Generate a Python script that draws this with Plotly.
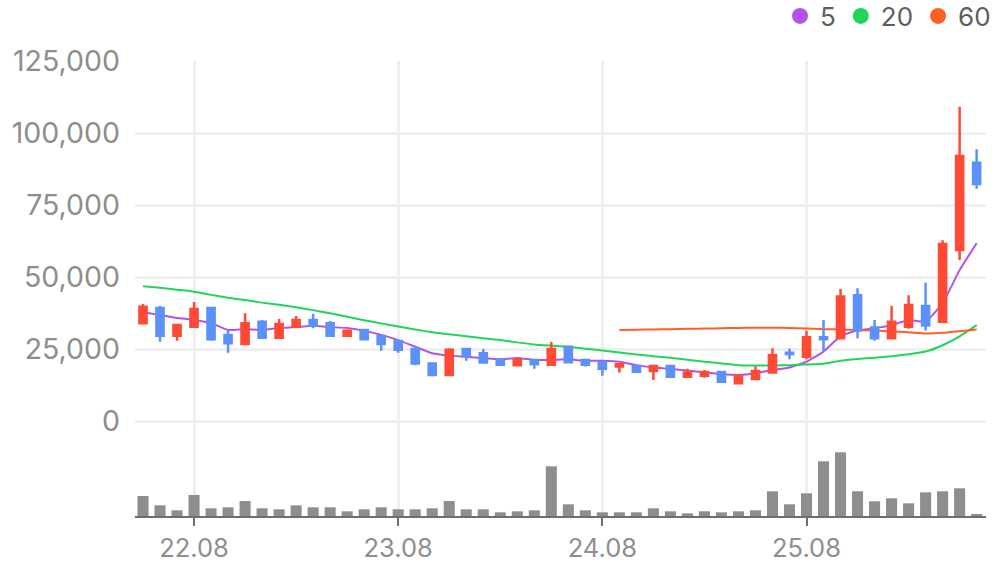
import pandas as pd
import plotly.graph_objects as go

# ---- data -------------------------------------------------------------
months = [d.strftime("%Y-%m") for d in pd.date_range("2022-05-01", periods=50, freq="MS")]

opens = [33900, 39200, 29600, 32700, 39200, 29900, 26700, 34500, 28900, 32700,
         35100, 33900, 29600, 31600, 29500, 27800, 25000, 20000, 16000, 25000,
         23500, 21200, 19400, 21200, 19500, 25800, 21200, 20400, 18900, 19100,
         17400, 19100, 15400, 15700, 17000, 13100, 14600, 16800, 23700, 22300,
         29100, 28700, 43700, 32500, 28700, 32700, 39900, 34500, 59400, 89700]
highs = [40600, 40000, 33300, 41300, 39200, 31600, 37400, 35100, 35400, 36500,
         37200, 34700, 31700, 31600, 29500, 27800, 25800, 20000, 25300, 25000,
         25000, 21900, 21400, 21200, 27400, 25800, 21200, 20400, 20000, 19100,
         19100, 19100, 18100, 17700, 17000, 15700, 18900, 25300, 25200, 31300,
         35100, 45800, 46100, 35100, 39900, 43700, 48000, 62800, 109100, 94400]
lows = [33500, 27500, 27900, 32300, 27900, 23700, 26500, 28900, 28600, 32700,
        32200, 29600, 29300, 28400, 24400, 23700, 19400, 16000, 16000, 20900,
        20300, 19500, 19100, 18100, 19500, 20400, 18900, 15700, 16800, 16800,
        14200, 15400, 15400, 15000, 13600, 12700, 14600, 16800, 21400, 21400,
        24100, 28700, 28700, 27900, 28700, 32000, 31400, 34500, 55900, 80600]
closes = [39700, 29600, 33300, 38900, 28400, 27000, 33900, 28900, 33700, 35100,
          33100, 29600, 31300, 28400, 26700, 24700, 20000, 16000, 24700, 22700,
          20300, 19500, 21400, 19700, 25000, 20400, 19500, 18100, 19700, 17100,
          19100, 15400, 16800, 17000, 13600, 15700, 17400, 22900, 23300, 29100,
          28400, 43200, 31400, 28700, 34500, 40300, 33200, 61500, 92000, 82300]

ma5 = [37800, 36800, 35800, 35100, 34000, 31600, 31900, 31600, 32300, 32600,
       33100, 32600, 32300, 31300, 29900, 28100, 25800, 23500, 22700, 22300,
       21800, 21400, 21900, 21200, 21200, 21400, 20900, 20900, 20600, 19400,
       18600, 18100, 17500, 16900, 16300, 16000, 16600, 17700, 18600, 20600,
       24100, 29500, 31400, 32200, 33300, 35100, 34500, 40900, 52400, 61700]
ma20 = [46800, 46300, 45600, 44900, 43800, 42800, 42000, 41100, 40400, 39500,
        38500, 37400, 36200, 35000, 33900, 32800, 31800, 30800, 30100, 29400,
        28700, 28100, 27300, 26600, 26200, 25800, 25100, 24500, 23800, 23100,
        22500, 22000, 21300, 20600, 20000, 19400, 19300, 19300, 19400, 19600,
        19900, 20900, 21500, 22000, 22500, 23200, 24100, 26300, 29400, 33300]
ma60 = [None] * 28 + [31600, 31700, 31800, 31900, 32000, 32100, 32200, 32300,
                      32400, 32400, 32300, 32100, 31900, 31800, 31600, 31400,
                      31100, 30800, 30400, 30600, 31200, 31800]

volumes = [2000, 1070, 570, 2100, 770, 870, 1500, 770, 670, 1070,
           870, 870, 470, 670, 870, 670, 670, 770, 1500, 670,
           670, 370, 470, 570, 4970, 1170, 570, 370, 370, 370,
           770, 470, 270, 470, 370, 470, 570, 2470, 1170, 2270,
           5470, 6370, 2470, 1470, 1770, 1270, 2370, 2470, 2770, 170]

tick_months = ["2022-08", "2023-08", "2024-08", "2025-08"]
tick_labels = ["22.08", "23.08", "24.08", "25.08"]
price_ticks = [0, 25000, 50000, 75000, 100000, 125000]
price_tick_labels = ["0", "25,000", "50,000", "75,000", "100,000", "125,000"]

ma_names = ["5", "20", "60"]
ma_colors = ["#B452F0", "#22D45C", "#FF5F24"]

# ---- figure -----------------------------------------------------------
UP = "#FF4A35"
DOWN = "#5C91FA"
GRID = "#EFEFEF"
TXT = "#8E8E8E"
FONT = "Inter, Roboto, Arial, sans-serif"

fig = go.Figure()

fig.add_trace(go.Bar(x=months, y=volumes, marker_color="#8E8E8E",
                     marker_line_width=0, yaxis="y2", showlegend=False,
                     hoverinfo="skip"))

for name, vals, col in zip(ma_names, [ma5, ma20, ma60], ma_colors):
    fig.add_trace(go.Scatter(x=months, y=vals, mode="lines",
                             line=dict(color=col, width=2, shape="spline", smoothing=0.4),
                             showlegend=False, hoverinfo="skip", yaxis="y"))

fig.add_trace(go.Candlestick(
    x=months, open=opens, high=highs, low=lows, close=closes,
    increasing=dict(line=dict(color=UP, width=2.5), fillcolor=UP),
    decreasing=dict(line=dict(color=DOWN, width=2.5), fillcolor=DOWN),
    whiskerwidth=0, showlegend=False, yaxis="y3"))

for name, col in zip(ma_names, ma_colors):
    fig.add_trace(go.Scatter(x=[None], y=[None], mode="markers", name=name,
                             marker=dict(color=col, size=17, symbol="circle"),
                             yaxis="y"))

price_range = [-32986, 125000]
vol_range = [0, max(volumes) * 455 / 63.7]

fig.update_layout(
    width=996, height=567,
    margin=dict(l=135, r=10, t=61, b=51, autoexpand=False),
    paper_bgcolor="white", plot_bgcolor="white",
    font=dict(family=FONT, color=TXT, size=24),
    boxgap=0.4, bargap=0.35,
    xaxis=dict(type="category", range=[-0.47, 49.55],
               tickvals=tick_months, ticktext=tick_labels,
               showgrid=True, gridcolor=GRID, gridwidth=3,
               showline=True, linecolor="#6E6E6E", linewidth=2,
               ticks="outside", ticklen=8, tickwidth=2, tickcolor="#6E6E6E",
               tickfont=dict(size=25.5, color=TXT),
               rangeslider=dict(visible=False), zeroline=False,
               fixedrange=True, automargin=False),
    yaxis=dict(range=price_range, tickvals=price_ticks, ticktext=price_tick_labels,
               showgrid=True, gridcolor=GRID, gridwidth=2.5, zeroline=False,
               showline=False, ticks="", ticklabelstandoff=14,
               tickfont=dict(size=28.5, color=TXT), automargin=False),
    yaxis2=dict(range=vol_range, overlaying="y", showgrid=False, zeroline=False,
                showticklabels=False, showline=False, ticks=""),
    yaxis3=dict(range=price_range, overlaying="y", showgrid=False, zeroline=False,
                showticklabels=False, showline=False, ticks=""),
    legend=dict(orientation="h", xref="container", yref="container",
                x=1.0, xanchor="right", y=1 - 16 / 567, yanchor="middle",
                font=dict(size=26, color="#5E5E5E"), bgcolor="rgba(0,0,0,0)",
                itemclick=False, itemdoubleclick=False),
    hovermode=False,
)

fig.write_html("out.html")
